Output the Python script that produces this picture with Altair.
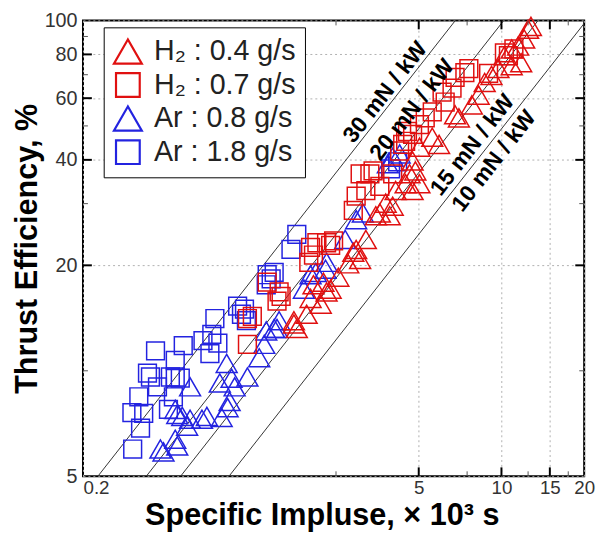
import altair as alt
import pandas as pd

# ---------------- data (Isp in 10^3 s, efficiency in %) ----------------
ar08_isp = [0.574, 0.589, 0.661, 0.650, 0.718, 0.736, 0.661, 0.650, 0.689, 0.736,
            0.813, 0.847, 0.959, 0.944, 1.000, 1.042, 1.069, 1.025, 1.008, 1.19,
            1.314, 1.37, 1.489, 1.552, 2.02, 2.29, 2.31, 1.91, 2.11, 1.393,
            1.525, 2.70, 2.96, 3.13, 4.02, 4.26, 3.86]
ar08_eff = [5.98, 5.87, 6.10, 6.38, 6.95, 7.27, 7.51, 7.76, 7.41, 9.00,
            7.27, 7.41, 7.36, 9.23, 10.5, 9.53, 9.00, 8.17, 7.85, 9.60,
            10.9, 11.9, 13.2, 13.9, 18.8, 19.5, 20.4, 17.1, 19.1, 13.0,
            13.2, 23.7, 27.0, 28.2, 40.7, 41.6, 39.0]

ar18_isp = [0.455, 0.452, 0.486, 0.499, 0.479, 0.551, 0.515, 0.528, 0.560, 0.614,
            0.640, 0.650, 0.650, 0.678, 0.624, 0.695, 0.906, 0.820, 0.869, 0.929,
            0.883, 1.096, 1.132, 1.161, 1.180, 1.404, 1.452, 1.393, 1.489, 1.80,
            1.714, 3.95, 4.19]
ar18_eff = [5.98, 7.60, 6.86, 7.56, 8.43, 11.4, 9.85, 9.60, 9.00, 7.76,
            8.43, 10.7, 9.60, 9.53, 9.60, 11.8, 14.1, 12.2, 11.2, 12.0,
            12.7, 15.3, 14.5, 15.0, 13.9, 18.8, 18.3, 17.6, 19.1, 24.5,
            22.2, 37.7, 39.5]

h04_isp = [1.757, 1.80, 1.955, 2.20, 2.31, 2.39, 2.07, 2.02, 2.25, 1.757,
           2.89, 2.96, 3.06, 3.21, 3.61, 3.79, 3.92, 4.02, 4.48, 4.63,
           4.86, 4.75, 5.03, 3.49, 4.12, 4.75, 5.03, 5.60, 5.93, 6.78,
           7.00, 7.80, 8.26, 8.69, 9.20, 9.75, 10.25, 10.9, 11.5, 12.1,
           12.5, 12.8, 10.9, 11.8, 2.55, 2.77]
h04_eff = [13.6, 13.2, 14.5, 15.5, 16.8, 17.1, 17.6, 16.1, 17.9, 13.9,
           21.8, 22.2, 20.8, 23.7, 28.2, 30.1, 27.7, 29.5, 34.2, 36.5,
           37.2, 32.7, 34.2, 27.7, 32.7, 39.7, 43.5, 46.4, 44.3, 53.8,
           52.7, 57.4, 61.2, 66.5, 69.7, 72.9, 79.3, 82.9, 84.5, 88.5,
           94.4, 96.2, 74.3, 75.7, 18.5, 20.2]

h07_isp = [1.19, 1.24, 1.19, 1.525, 1.578, 1.552, 1.404, 2.02, 2.13, 2.31,
           2.45, 2.07, 1.99, 2.39, 2.89, 2.96, 3.32, 3.41, 3.21, 3.61,
           4.02, 4.26, 4.48, 4.75, 3.06, 4.37, 4.55, 5.03, 5.28, 5.60,
           6.08, 6.61, 6.24, 6.78, 7.36, 7.61, 10.25, 10.6, 11.1, 8.98]
h07_eff = [11.9, 14.3, 14.1, 15.8, 16.3, 16.8, 17.9, 22.5, 23.2, 23.2,
           23.5, 21.4, 20.4, 22.8, 28.7, 31.5, 36.5, 37.2, 32.7, 33.6,
           36.5, 42.4, 45.2, 47.3, 36.5, 44.3, 48.2, 50.4, 52.7, 54.8,
           62.4, 64.1, 58.5, 68.8, 71.0, 72.9, 80.8, 79.3, 82.9, 70.6]

series_names = ["H\u2082 : 0.4 g/s", "H\u2082 : 0.7 g/s", "Ar : 0.8 g/s", "Ar : 1.8 g/s"]
series_colors = ["#e01010", "#e01010", "#2323e0", "#2323e0"]

# constant thrust-to-power lines (mN/kW)
tp_values = [30, 20, 15, 10]
tp_labels = ["30 mN / kW", "20 mN / kW", "15 mN / kW", "10 mN / kW"]
tp_label_isp = [3.78, 4.73, 7.85, 9.40]
tp_label_eff = [62.4, 55.6, 44.1, 39.7]

x_label_values = [0.3, 5, 10, 15, 20]
y_label_values = [5, 20, 40, 60, 80, 100]
x_major = [5, 10, 15]
x_minor = [2.5, 7.5, 12.5, 17.5]
y_major = [20, 40, 60, 80]
y_minor = [10, 30, 50, 70, 90]

# ---------------- tables ----------------
rows = []
for name, xs_, ys_ in [(series_names[2], ar08_isp, ar08_eff),
                       (series_names[3], ar18_isp, ar18_eff),
                       (series_names[0], h04_isp, h04_eff),
                       (series_names[1], h07_isp, h07_eff)]:
    for a, b in zip(xs_, ys_):
        rows.append({"series": name, "isp": a, "eff": b})
pts = pd.DataFrame(rows)

G0 = 9.80665
line_rows = []
for k in tp_values:
    for eff in (5, 100):
        # eff[%] = (k*1e-6 N/W) * g0 * (Isp*1e3 s) / 2 * 100
        isp = eff / (k * 1e-6 * G0 * 1e3 / 2 * 100)
        line_rows.append({"k": k, "isp": isp, "eff": eff})
lines_df = pd.DataFrame(line_rows)

labels_df = pd.DataFrame({"text": tp_labels, "isp": tp_label_isp, "eff": tp_label_eff})

W, H = 508, 462
FONT = "Liberation Sans"
xs = alt.Scale(type="log", domain=[0.3, 20])
ys = alt.Scale(type="log", domain=[5, 100])
SQ = "M-0.85,-0.85L0.85,-0.85L0.85,0.85L-0.85,0.85Z"

x_axis = alt.Axis(
    values=x_label_values, title="Specific Impluse, \u00d7 10\u00b3 s",
    labelExpr="datum.value < 1 ? '0.2' : format(datum.value, 'd')",
    labelAlign={"expr": "datum.value < 1 ? 'left' : 'center'"},
    labelFlush=False, labelFontSize=19, labelFont=FONT, labelColor="#333",
    labelPadding=2, ticks=False, domain=False,
    grid=True, gridColor="#b0b0b0", gridDash=[2, 3], gridWidth=1,
    titleFontSize=31, titleFont=FONT, titleFontWeight="bold", titleColor="black",
    titlePadding=4, titleX=242,
)
y_axis = alt.Axis(
    values=y_label_values, title="Thrust Efficiency, %", format="d",
    labelFontSize=20, labelFont=FONT, labelColor="#333", labelPadding=6,
    ticks=False, domain=False,
    grid=True, gridColor="#b0b0b0", gridDash=[2, 3], gridWidth=1,
    titleFontSize=31, titleFont=FONT, titleFontWeight="bold", titleColor="black",
    titlePadding=1,
)

legend = alt.Legend(
    title=None, orient="none", legendX=21, legendY=7,
    symbolSize=800, symbolStrokeWidth=2.2, labelFontSize=29, labelFont=FONT,
    labelColor="#222", labelLimit=300, labelOffset=11, padding=9, rowPadding=0,
    strokeColor="black", fillColor="white",
)

points = alt.Chart(pts).mark_point(filled=False, strokeWidth=1.5, size=450, opacity=1).encode(
    x=alt.X("isp:Q", scale=xs, axis=x_axis),
    y=alt.Y("eff:Q", scale=ys, axis=y_axis),
    color=alt.Color("series:N", scale=alt.Scale(domain=series_names, range=series_colors), legend=legend),
    shape=alt.Shape("series:N", scale=alt.Scale(domain=series_names, range=["triangle-up", SQ, "triangle-up", SQ]), legend=legend),
)

lines = alt.Chart(lines_df).mark_line(color="#333", strokeWidth=1, clip=True).encode(
    x=alt.X("isp:Q", scale=xs, axis=x_axis),
    y=alt.Y("eff:Q", scale=ys, axis=y_axis),
    detail="k:N",
)

texts = alt.Chart(labels_df).mark_text(angle=308, fontSize=23, fontWeight="bold", font=FONT,
                                       align="center", baseline="middle", color="black").encode(
    x=alt.X("isp:Q", scale=xs, axis=x_axis),
    y=alt.Y("eff:Q", scale=ys, axis=y_axis),
    text="text:N",
)

def xticks(vals, y1, y2, width, color):
    return alt.Chart(pd.DataFrame({"isp": vals})).mark_rule(color=color, strokeWidth=width).encode(
        x=alt.X("isp:Q", scale=xs, axis=x_axis), y=alt.value(y1), y2=alt.value(y2))

def yticks(vals, x1, x2, width, color):
    return alt.Chart(pd.DataFrame({"eff": vals})).mark_rule(color=color, strokeWidth=width).encode(
        y=alt.Y("eff:Q", scale=ys, axis=y_axis), x=alt.value(x1), x2=alt.value(x2))

tick_layers = [
    xticks(x_major, H, H - 9, 2, "black"), xticks(x_minor, H, H - 5, 1, "#555"),
    xticks(x_major, 0, 9, 2, "black"), xticks(x_minor, 0, 5, 1, "#555"),
    yticks(y_major, 0, 9, 2, "black"), yticks(y_minor, 0, 5, 1, "#555"),
    yticks(y_major, W, W - 9, 2, "black"), yticks(y_minor, W, W - 5, 1, "#555"),
]

chart = alt.layer(lines, points, texts, *tick_layers).properties(
    width=W, height=H,
    padding={"left": 76, "top": 9, "right": 13, "bottom": 61},
    autosize=alt.AutoSizeParams(type="none"),
).configure_view(stroke="black", strokeWidth=2)

chart.save("out.html", embed_options={"renderer": "svg", "actions": False})
